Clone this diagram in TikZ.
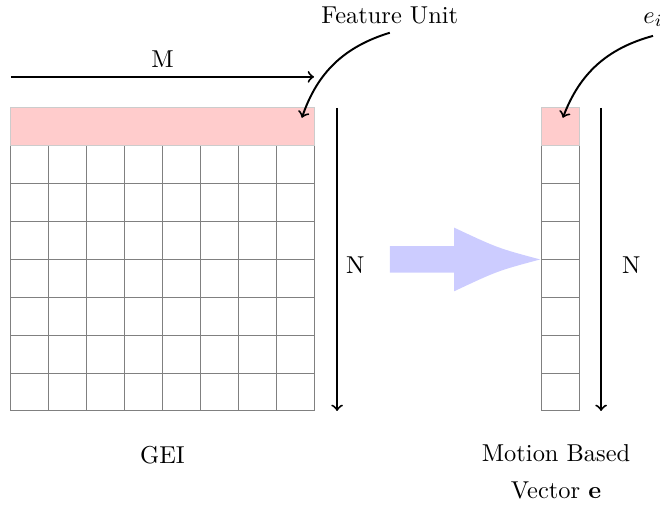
\documentclass[tikz,border=0pt]{standalone}
\usepackage{amsmath}
\usepackage{amssymb}
\usepackage{tikz}
\usetikzlibrary{positioning}

\begin{document}
\begin{tikzpicture}[>=to, x=0.545cm, y=0.545cm, thick]
    \useasboundingbox (-0.29, -2.535) rectangle (17.135, 10.85);
    % GEI cells
    \foreach \i in {0, ..., 7} {
        \foreach \j in {0, ..., 6} {
            \draw[gray, thin] (\i, \j) rectangle (\i+1, \j+1);
        };
    };
    \filldraw[fill=red!20, draw=gray!40, thin] (0, 7) rectangle (8, 8);
    % vector cells
    \foreach \j in {0, ..., 6} {
        \draw[gray, thin] (14, \j) rectangle (15, \j+1);
    };
    \filldraw[fill=red!20, draw=gray!40, thin] (14, 7) rectangle (15, 8);
    % sizes
    \coordinate (mLeft) at (0, 8.82);
    \coordinate (mRight) at (8, 8.82);
    \draw[->] (mLeft) -- (mRight) node[midway, above] {M};
    \coordinate (nTop) at (8.61, 8);
    \coordinate (nBottom) at (8.61, 0);
    \draw[->] (nTop) -- (nBottom) node[midway, right, yshift=-2.5pt] {N};
    \coordinate (vTop) at (15.58, 8);
    \coordinate (vBottom) at (15.58, 0);
    \draw[->] (vTop) -- (vBottom) node[midway, right=1.7mm, yshift=-2.5pt] {N};
    % labels on top
    \node[anchor=base] (unit) at (10, 10.24) {Feature Unit};
    \node[anchor=base] (elem) at (16.95, 10.24) {\(e_i\)};
    \coordinate (unitTip) at (7.68, 7.74);
    \coordinate (elemTip) at (14.57, 7.74);
    \draw[->] (unit.south) to[bend right=27] (unitTip);
    \draw[->] (elem.south) to[bend right=27] (elemTip);
    % mapping arrow
    \fill[blue!20] (10, 3.65) -- (11.7, 3.65) -- (11.7, 3.16)
        .. controls (12.85, 3.7) .. (13.97, 4)
        .. controls (12.85, 4.3) .. (11.7, 4.84)
        -- (11.7, 4.35) -- (10, 4.35) -- cycle;
    % captions
    \node (gei) at (4, -1.16) {GEI};
    \node[align=center] (vec) at (14.39, -1.6) {Motion Based\\[3pt]Vector \(\mathbf{e}\)};
\end{tikzpicture}
\end{document}
